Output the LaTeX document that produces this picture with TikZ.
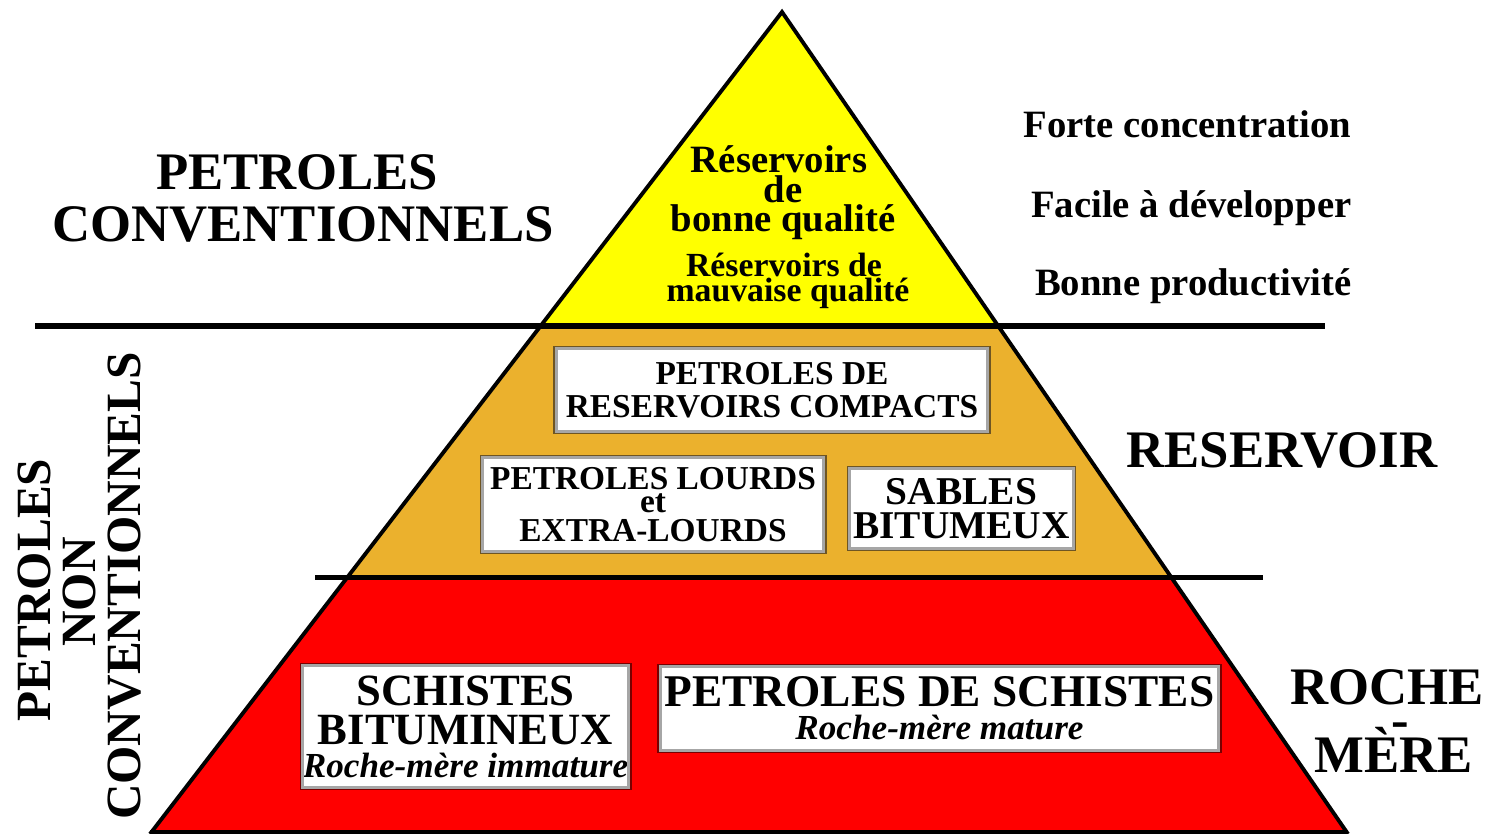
\documentclass[tikz,border=0pt]{standalone}
\usepackage{fontspec}
\setmainfont{Liberation Serif}
\definecolor{pyyellow}{RGB}{255,255,0}
\definecolor{pyorange}{RGB}{235,177,45}
\definecolor{pyred}{RGB}{255,0,0}
\definecolor{rimorange}{RGB}{110,85,35}
\definecolor{rimred}{RGB}{120,0,0}
\newcommand\myfs[2]{\fontsize{#1}{#2}\selectfont}
\begin{document}
\begin{tikzpicture}[x=0.01cm,y=-0.01cm,
  txt/.style={inner sep=0pt, anchor=base},
  pyline/.style={line width=1.1pt, line join=miter},
  box/.style={draw=rimorange, fill=white, line width=0.8pt, inner sep=0pt, align=center},
  redbox/.style={box, draw=rimred},
  innerframe/.style={draw=black!35, line width=0.8pt},
]
\useasboundingbox (0,0) rectangle (1488,834);
\fill[white] (0,0) rectangle (1488,834);
% pyramid corners
\coordinate (apex) at (782,12);
\coordinate (yl) at (540.6,326);
\coordinate (yr) at (998.2,326);
\coordinate (ol) at (347.6,577);
\coordinate (or) at (1171,577);
\coordinate (bl) at (150,834);
\coordinate (br) at (1348,834);
\fill[pyyellow] (apex) -- (yr) -- (yl) -- cycle;
\fill[pyorange] (yl) -- (yr) -- (or) -- (ol) -- cycle;
\fill[pyred] (ol) -- (or) -- (br) -- (bl) -- cycle;
\draw[pyline] (bl) -- (apex) -- (br);
\draw[line width=2pt] (bl) -- (br);
% separating lines
\coordinate (h1l) at (35,326);
\coordinate (h1r) at (1325,326);
\coordinate (h2l) at (315,577.5);
\coordinate (h2r) at (1263,577.5);
\draw[line width=1.8pt] (h1l) -- (h1r);
\draw[line width=1.3pt] (h2l) -- (h2r);
% conventional oils title
\node[txt, font=\myfs{15}{15}\bfseries] (pc1) at (297,190) {PETROLES};
\node[txt, font=\myfs{15}{15}\bfseries] (pc2) at (303,242) {CONVENTIONNELS};
% yellow band text
\node[txt, font=\myfs{11}{11}\bfseries] (y1) at (779,173) {Réservoirs};
\node[txt, font=\myfs{11}{11}\bfseries] (y2) at (783,203) {de};
\node[txt, font=\myfs{11}{11}\bfseries] (y3) at (783,232) {bonne qualité};
\node[txt, font=\myfs{9.6}{9.6}\bfseries] (y4) at (784,277) {Réservoirs de};
\node[txt, font=\myfs{9.6}{9.6}\bfseries] (y5) at (788,302) {mauvaise qualité};
% right-hand properties
\node[txt, anchor=base east, font=\myfs{11}{11}\bfseries] (r1) at (1352,138) {Forte concentration};
\node[txt, anchor=base east, font=\myfs{11}{11}\bfseries] (r2) at (1352,218) {Facile à développer};
\node[txt, anchor=base east, font=\myfs{11}{11}\bfseries] (r3) at (1352,296) {Bonne productivité};
\node[txt, font=\myfs{15}{15}\bfseries] (res) at (1282,468) {RESERVOIR};
\node[txt, font=\myfs{15}{15}\bfseries] (rm1) at (1387,705) {ROCHE};
\node[txt, font=\myfs{15}{15}\bfseries] (rm2) at (1400,737) {-};
\node[txt, font=\myfs{15}{15}\bfseries] (rm3) at (1394,772) {MÈRE};
% vertical title
\node[txt, rotate=90, font=\myfs{14}{14}\bfseries] (nc1) at (50,590) {PETROLES};
\node[txt, rotate=90, font=\myfs{14}{14}\bfseries] (nc2) at (95,592) {NON};
\node[txt, rotate=90, font=\myfs{14}{14}\bfseries] (nc3) at (140,586) {CONVENTIONNELS};
% boxes, reservoir band
\node[box, minimum width=43.4mm, minimum height=8.6mm, font=\myfs{9.5}{9.4}\bfseries] (bA) at (772,390)
  {PETROLES DE\\RESERVOIRS COMPACTS};
\node[box, minimum width=34.4mm, minimum height=9.7mm, font=\myfs{9.5}{6.8}\bfseries] (bB) at (653,504.5)
  {PETROLES LOURDS\\et\\[1.4pt]EXTRA-LOURDS};
\node[box, minimum width=22.7mm, minimum height=8.3mm, font=\myfs{11.2}{9.7}\bfseries] (bC) at (961.5,508.5)
  {SABLES\\BITUMEUX};
% boxes, source rock band
\node[redbox, minimum width=32.9mm, minimum height=12.5mm, font=\myfs{12.7}{11.1}\bfseries] (bD) at (465.5,726.5)
  {SCHISTES\\BITUMINEUX\\[-1.7pt]{\myfs{10}{11.1}\bfseries\itshape Roche-mère immature}};
\node[redbox, minimum width=56.1mm, minimum height=8.7mm, font=\myfs{12.9}{9.4}\bfseries] (bE) at (939.5,708.5)
  {PETROLES DE SCHISTES\\{\myfs{10}{9.4}\bfseries\itshape Roche-mère mature}};
% inner grey frame of each box
\foreach \b in {bA,bB,bC,bD,bE}
  \draw[innerframe] ([shift={(0.8pt,-0.8pt)}]\b.north west) rectangle ([shift={(-0.8pt,0.8pt)}]\b.south east);
\end{tikzpicture}
\end{document}
